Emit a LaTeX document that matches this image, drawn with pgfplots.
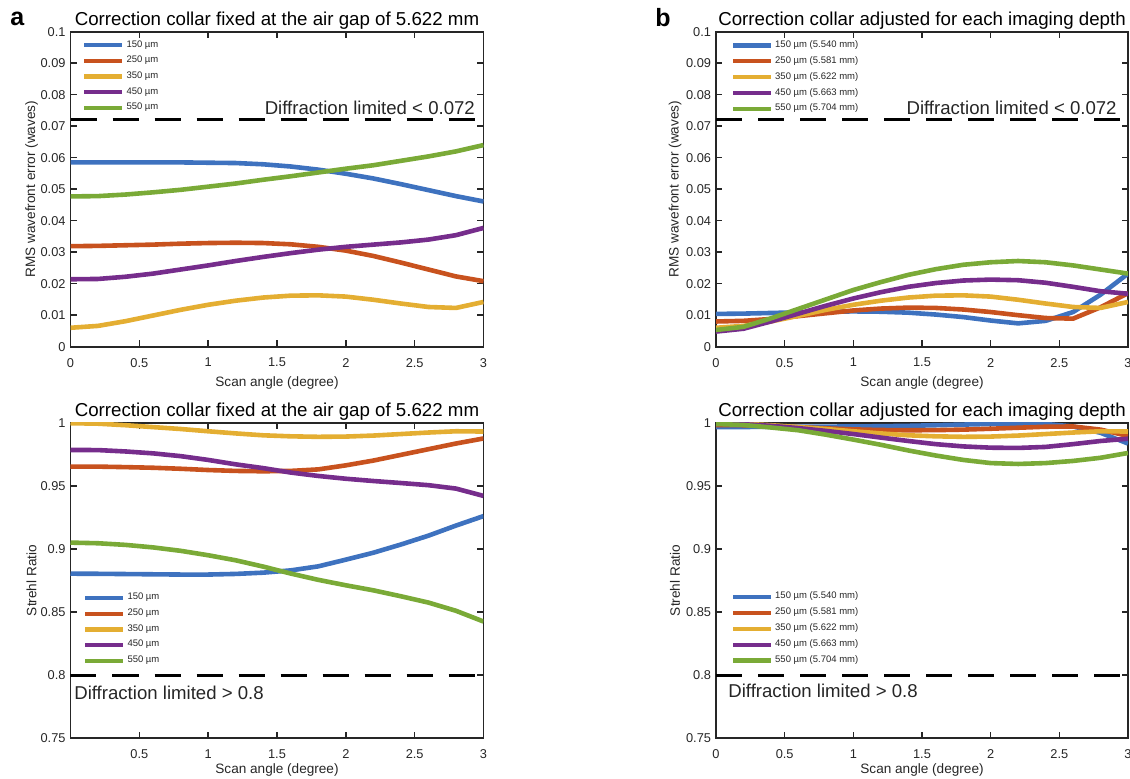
\documentclass[border=0pt]{standalone}
\usepackage{pgfplots}
\pgfplotsset{compat=1.18}
\usepackage{pgfplotstable}
\usepackage{fontspec}
\setmainfont{Liberation Sans}

\definecolor{c1}{RGB}{62,114,191}
\definecolor{c2}{RGB}{200,82,30}
\definecolor{c3}{RGB}{228,174,50}
\definecolor{c4}{RGB}{118,45,140}
\definecolor{c5}{RGB}{122,170,55}
\definecolor{axgray}{RGB}{38,38,38}

% RMS wavefront error, collar fixed
\pgfplotstableread{
x   a      b      c      d      e
0.0 0.0585 0.0319 0.0060 0.0214 0.0477
0.2 0.0585 0.0320 0.0066 0.0215 0.0478
0.4 0.0585 0.0322 0.0081 0.0222 0.0483
0.6 0.0585 0.0324 0.0099 0.0232 0.0490
0.8 0.0585 0.0327 0.0117 0.0245 0.0498
1.0 0.0584 0.0329 0.0133 0.0258 0.0508
1.2 0.0583 0.0330 0.0146 0.0272 0.0518
1.4 0.0579 0.0329 0.0156 0.0285 0.0530
1.6 0.0572 0.0325 0.0162 0.0297 0.0541
1.8 0.0562 0.0317 0.0163 0.0308 0.0553
2.0 0.0549 0.0305 0.0159 0.0317 0.0565
2.2 0.0534 0.0288 0.0149 0.0324 0.0576
2.4 0.0516 0.0267 0.0137 0.0331 0.0590
2.6 0.0497 0.0245 0.0126 0.0340 0.0604
2.8 0.0478 0.0223 0.0123 0.0354 0.0620
3.0 0.0461 0.0208 0.0142 0.0377 0.0640
}\tabTL

% RMS wavefront error, collar adjusted
\pgfplotstableread{
x   a      b      c      d      e
0.0 0.0104 0.0080 0.0060 0.0048 0.0053
0.2 0.0105 0.0082 0.0066 0.0057 0.0063
0.4 0.0107 0.0088 0.0080 0.0080 0.0090
0.6 0.0109 0.0097 0.0098 0.0105 0.0120
0.8 0.0111 0.0106 0.0117 0.0130 0.0150
1.0 0.0112 0.0115 0.0133 0.0153 0.0180
1.2 0.0111 0.0121 0.0146 0.0173 0.0205
1.4 0.0108 0.0124 0.0156 0.0190 0.0228
1.6 0.0102 0.0123 0.0162 0.0202 0.0246
1.8 0.0094 0.0118 0.0163 0.0210 0.0260
2.0 0.0083 0.0110 0.0159 0.0213 0.0268
2.2 0.0074 0.0100 0.0149 0.0211 0.0272
2.4 0.0082 0.0091 0.0137 0.0203 0.0268
2.6 0.0110 0.0089 0.0126 0.0190 0.0258
2.8 0.0165 0.0125 0.0123 0.0176 0.0245
3.0 0.0232 0.0170 0.0142 0.0168 0.0232
}\tabTR

% Strehl ratio, collar fixed
\pgfplotstableread{
x   a      b      c      d      e
0.0 0.8804 0.9652 0.9996 0.9784 0.9050
0.2 0.8803 0.9652 0.9992 0.9783 0.9045
0.4 0.8801 0.9648 0.9980 0.9772 0.9032
0.6 0.8799 0.9643 0.9965 0.9757 0.9012
0.8 0.8797 0.9635 0.9950 0.9735 0.8985
1.0 0.8797 0.9625 0.9932 0.9705 0.8950
1.2 0.8802 0.9618 0.9915 0.9670 0.8910
1.4 0.8812 0.9615 0.9900 0.9640 0.8860
1.6 0.8830 0.9618 0.9892 0.9605 0.8805
1.8 0.8862 0.9630 0.9888 0.9578 0.8755
2.0 0.8915 0.9662 0.9890 0.9556 0.8712
2.2 0.8970 0.9700 0.9898 0.9538 0.8672
2.4 0.9035 0.9745 0.9910 0.9522 0.8625
2.6 0.9105 0.9790 0.9922 0.9505 0.8575
2.8 0.9185 0.9835 0.9932 0.9478 0.8510
3.0 0.9260 0.9875 0.9930 0.9420 0.8425
}\tabBL

% Strehl ratio, collar adjusted
\pgfplotstableread{
x   a      b      c      d      e
0.0 0.9965 0.9982 0.9996 0.9992 0.9990
0.2 0.9966 0.9980 0.9992 0.9988 0.9982
0.4 0.9967 0.9975 0.9980 0.9975 0.9962
0.6 0.9968 0.9965 0.9965 0.9957 0.9940
0.8 0.9969 0.9955 0.9950 0.9935 0.9905
1.0 0.9970 0.9947 0.9932 0.9910 0.9866
1.2 0.9972 0.9942 0.9915 0.9882 0.9825
1.4 0.9975 0.9940 0.9900 0.9855 0.9780
1.6 0.9980 0.9941 0.9892 0.9830 0.9740
1.8 0.9985 0.9945 0.9888 0.9812 0.9705
2.0 0.9990 0.9952 0.9890 0.9802 0.9680
2.2 0.9993 0.9960 0.9898 0.9800 0.9673
2.4 0.9990 0.9968 0.9910 0.9808 0.9680
2.6 0.9970 0.9970 0.9922 0.9830 0.9697
2.8 0.9920 0.9945 0.9932 0.9855 0.9722
3.0 0.9835 0.9895 0.9930 0.9873 0.9760
}\tabBR

\pgfplotsset{
  legend image code/.code={\draw[#1,line width=2.1pt] (0pt,0pt) -- (18.8pt,0pt);},
  base/.style={
    scale only axis, width=206.5pt, height=157.5pt,
    xmin=0, xmax=3,
    axis line style={line width=0.9pt, draw=axgray},
    every tick/.style={line width=0.7pt, draw=axgray},
    major tick length=3.2pt,
    tick align=inside,
    ticklabel style={font=\fontsize{6.4}{7}\selectfont, text=axgray},
    /pgf/number format/assume math mode=true,
    scaled y ticks=false, scaled x ticks=false,
    yticklabel style={/pgf/number format/fixed, /pgf/number format/precision=2, inner sep=0pt, xshift=-2.3pt},
    xticklabel style={/pgf/number format/fixed, inner sep=0pt, yshift=-5.5pt},
    every axis title/.style={at={(axis description cs:0.5,1)}, anchor=base, yshift=3.2pt, inner sep=0pt, font=\fontsize{9.35}{10}\selectfont},
    every axis x label/.style={at={(axis description cs:0.5,0)}, anchor=north, yshift=-14.7pt, inner sep=0pt, font=\fontsize{6.8}{8}\selectfont, text=axgray},
    every axis y label/.style={at={(axis description cs:-0.0944,0.5)}, rotate=90, anchor=center, inner sep=0pt, font=\fontsize{6.8}{8}\selectfont, text=axgray},
    legend cell align=left,
    legend style={draw=none, fill=none, inner sep=0pt, outer sep=0pt, row sep=3pt,
      font=\fontsize{4.75}{5}\selectfont, text=axgray, nodes={inner sep=0pt},
      /tikz/every odd column/.append style={column sep=1.2pt}},
    every axis plot/.append style={line width=2.3pt, line join=round},
    xlabel={Scan angle (degree)},
  },
  rms/.style={ymin=0, ymax=0.1, ytick={0,0.01,...,0.1}, ylabel={RMS wavefront error (waves)}, xtick={0,0.5,...,3}},
  strehl/.style={ymin=0.75, ymax=1, ytick={0.75,0.8,0.85,0.9,0.95,1}, ylabel={Strehl Ratio}, height=157.8pt},
  dl/.style={black, line width=1.6pt, dash pattern=on 13pt off 8pt, forget plot},
}

\begin{document}
\begin{tikzpicture}
\path[use as bounding box] (0,0) rectangle (565pt,389.5pt);

% ---------- top left
\begin{axis}[base, rms, at={(35.25pt,216.15pt)}, anchor=south west,
  title={Correction collar fixed at the air gap of 5.622 mm},
  legend style={at={(axis description cs:0,1)}, anchor=north west, xshift=5.9pt, yshift=-4.4pt}]
\addplot[c1] table[x=x,y=a] {\tabTL};
\addplot[c2] table[x=x,y=b] {\tabTL};
\addplot[c3] table[x=x,y=c] {\tabTL};
\addplot[c4] table[x=x,y=d] {\tabTL};
\addplot[c5] table[x=x,y=e] {\tabTL};
\addplot[dl] coordinates {(0,0.072) (3,0.072)};
\legend{150 µm, 250 µm, 350 µm, 450 µm, 550 µm}
\node[anchor=base east, inner sep=0pt, font=\fontsize{9.3}{10}\selectfont, text=axgray] at (axis cs:2.94,0.0738) {Diffraction limited < 0.072};
\end{axis}

% ---------- top right
\begin{axis}[base, rms, width=206pt, at={(358pt,216.15pt)}, anchor=south west,
  every axis y label/.append style={at={(axis description cs:-0.0995,0.5)}},
  title={Correction collar adjusted for each imaging depth},
  legend style={at={(axis description cs:0,1)}, anchor=north west, xshift=7.5pt, yshift=-4.4pt}]
\addplot[c1] table[x=x,y=a] {\tabTR};
\addplot[c2] table[x=x,y=b] {\tabTR};
\addplot[c3] table[x=x,y=c] {\tabTR};
\addplot[c4] table[x=x,y=d] {\tabTR};
\addplot[c5] table[x=x,y=e] {\tabTR};
\addplot[dl] coordinates {(0,0.072) (3,0.072)};
\legend{150 µm (5.540 mm), 250 µm (5.581 mm), 350 µm (5.622 mm), 450 µm (5.663 mm), 550 µm (5.704 mm)}
\node[anchor=base east, inner sep=0pt, font=\fontsize{9.3}{10}\selectfont, text=axgray] at (axis cs:2.92,0.0738) {Diffraction limited < 0.072};
\end{axis}

% ---------- bottom left
\begin{axis}[base, strehl, at={(35.25pt,20.35pt)}, anchor=south west,
  xtick={0.5,1,...,3},
  every axis x label/.append style={yshift=2pt},
  title={Correction collar fixed at the air gap of 5.622 mm},
  legend style={at={(axis description cs:0,0)}, anchor=south west, xshift=6.4pt, yshift=36.4pt}]
\addplot[c1] table[x=x,y=a] {\tabBL};
\addplot[c2] table[x=x,y=b] {\tabBL};
\addplot[c3] table[x=x,y=c] {\tabBL};
\addplot[c4] table[x=x,y=d] {\tabBL};
\addplot[c5] table[x=x,y=e] {\tabBL};
\addplot[dl] coordinates {(0,0.8) (3,0.8)};
\legend{150 µm, 250 µm, 350 µm, 450 µm, 550 µm}
\node[anchor=base west, inner sep=0pt, font=\fontsize{9.3}{10}\selectfont, text=axgray] at (axis cs:0.025,0.781) {Diffraction limited > 0.8};
\end{axis}

% ---------- bottom right
\begin{axis}[base, strehl, width=206pt, at={(358pt,20.35pt)}, anchor=south west,
  xtick={0,0.5,...,3},
  every axis x label/.append style={yshift=2pt},
  every axis y label/.append style={at={(axis description cs:-0.0995,0.5)}},
  title={Correction collar adjusted for each imaging depth},
  legend style={at={(axis description cs:0,0)}, anchor=south west, xshift=7.5pt, yshift=36.4pt}]
\addplot[c1] table[x=x,y=a] {\tabBR};
\addplot[c2] table[x=x,y=b] {\tabBR};
\addplot[c3] table[x=x,y=c] {\tabBR};
\addplot[c4] table[x=x,y=d] {\tabBR};
\addplot[c5] table[x=x,y=e] {\tabBR};
\addplot[dl] coordinates {(0,0.8) (3,0.8)};
\legend{150 µm (5.540 mm), 250 µm (5.581 mm), 350 µm (5.622 mm), 450 µm (5.663 mm), 550 µm (5.704 mm)}
\node[anchor=base west, inner sep=0pt, font=\fontsize{9.3}{10}\selectfont, text=axgray] at (axis cs:0.087,0.782) {Diffraction limited > 0.8};
\end{axis}

\node[anchor=base west, inner sep=0pt, font=\fontsize{12.5}{14}\selectfont\bfseries] at (5pt,376.5pt) {a};
\node[anchor=base west, inner sep=0pt, font=\fontsize{12.5}{14}\selectfont\bfseries] at (327.5pt,376.3pt) {b};
\end{tikzpicture}
\end{document}
